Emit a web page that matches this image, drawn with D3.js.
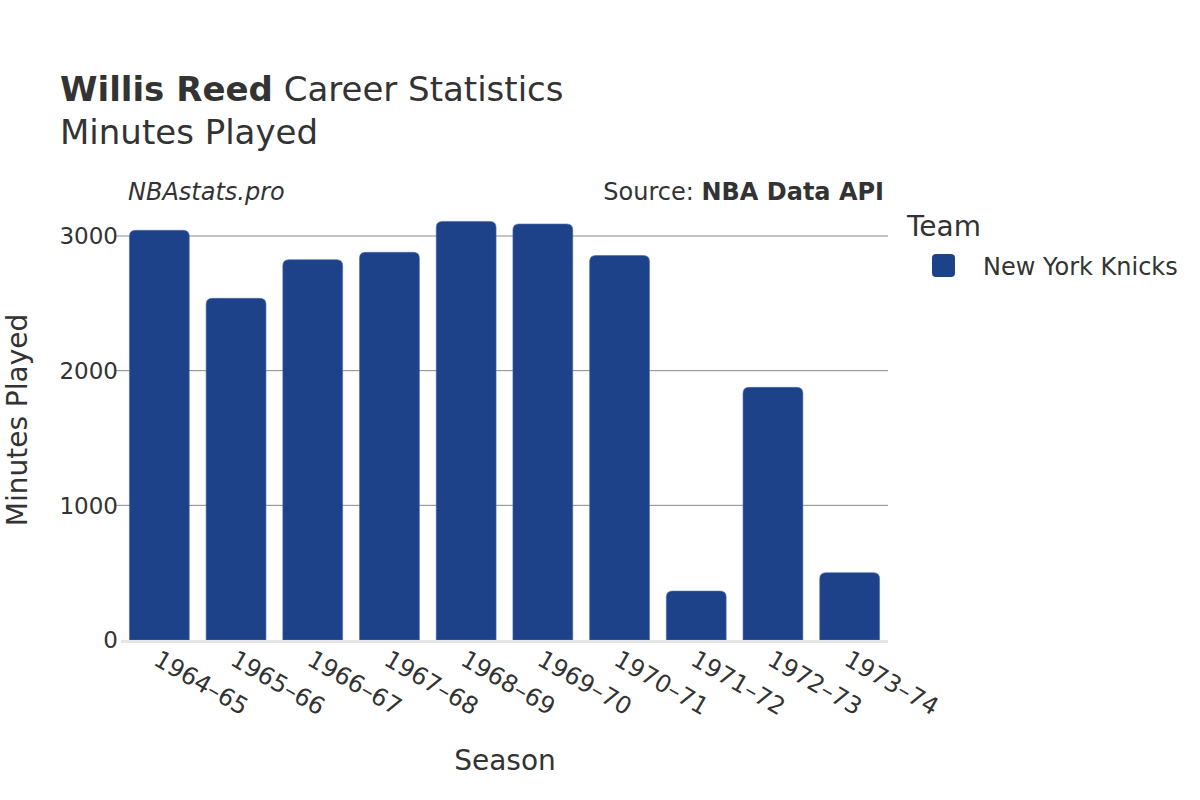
<!DOCTYPE html>
<html><head><meta charset="utf-8">
<script src="https://cdn.jsdelivr.net/npm/d3@7"></script>
<style>body{margin:0;background:#fff}svg{font-family:"DejaVu Sans",sans-serif}</style>
</head><body><svg id="c" width="1200" height="800"></svg>
<script>
const seasons = ["1964-65","1965-66","1966-67","1967-68","1968-69","1969-70","1970-71","1971-72","1972-73","1973-74"];
const minutes = [3042,2537,2824,2879,3108,3089,2855,363,1876,500];
const yTicks = [0,1000,2000,3000];
const teamName = "New York Knicks";
const teamColor = "#1d428a";

const svg = d3.select("#c");
const M = {l:121, r:888, t:180, b:640};
const x = d3.scaleBand().domain(seasons).range([M.l, M.r]).paddingInner(0.22).paddingOuter(0.11);
const y = d3.scaleLinear().domain([0, 3300]).range([M.b, M.b - 3300*0.13467]);

// grid
svg.append("g").selectAll("line").data(yTicks.filter(d=>d>0)).join("line")
  .attr("x1", M.l-6).attr("x2", M.r).attr("y1", d=>y(d)).attr("y2", d=>y(d))
  .attr("stroke","#8a8a8a").attr("stroke-width",1);
svg.append("g").selectAll("text").data(yTicks).join("text")
  .attr("x", M.l-3).attr("y", d=>y(d)).attr("dy","0.36em").attr("text-anchor","end")
  .attr("font-size",23).attr("fill","#333").text(d=>d);

// bars with rounded top corners
const r = 6;
function barPath(d,i){
  const x0 = x(seasons[i]), w = x.bandwidth(), y0 = y(d), yb = y(0);
  const rr = Math.min(r, (yb-y0));
  return `M${x0},${yb}V${y0+rr}Q${x0},${y0} ${x0+rr},${y0}H${x0+w-rr}Q${x0+w},${y0} ${x0+w},${y0+rr}V${yb}Z`;
}
svg.append("g").selectAll("path").data(minutes).join("path")
  .attr("d", barPath).attr("fill", teamColor).attr("stroke","#4a6aa8").attr("stroke-width",0.6);

// zero line
svg.append("line").attr("x1",M.l).attr("x2",M.r).attr("y1",y(0)+1.5).attr("y2",y(0)+1.5)
  .attr("stroke","#e6e6e6").attr("stroke-width",3);

// x tick labels
svg.append("g").selectAll("text").data(seasons).join("text")
  .attr("transform", d=>`translate(${x(d)+x.bandwidth()/2-7},${y(0)+24}) rotate(30)`)
  .attr("font-size",24).attr("fill","#333").text(d=>d.replace("-","–"));

// titles
const t = svg.append("text").attr("x",60).attr("y",101).attr("font-size",34).attr("fill","#333");
t.append("tspan").attr("font-weight","bold").text("Willis Reed");
t.append("tspan").text(" Career Statistics");
svg.append("text").attr("x",60).attr("y",144).attr("font-size",34).attr("fill","#333").text("Minutes Played");

svg.append("text").attr("x",128).attr("y",200).attr("font-size",24).attr("font-style","italic").attr("fill","#333").text("NBAstats.pro");
const s = svg.append("text").attr("x",884).attr("y",200).attr("font-size",24).attr("text-anchor","end").attr("fill","#333");
s.append("tspan").text("Source: ");
s.append("tspan").attr("font-weight","bold").text("NBA Data API");

// axis titles
svg.append("text").attr("x",505).attr("y",770).attr("text-anchor","middle").attr("font-size",28).attr("fill","#333").text("Season");
svg.append("text").attr("transform","translate(17,420) rotate(-90)").attr("text-anchor","middle").attr("dy","0.35em").attr("font-size",28).attr("fill","#333").text("Minutes Played");

// legend
svg.append("text").attr("x",907).attr("y",236).attr("font-size",28).attr("fill","#333").text("Team");
svg.append("rect").attr("x",932).attr("y",254).attr("width",23).attr("height",23).attr("rx",4).attr("fill",teamColor);
svg.append("text").attr("x",983).attr("y",275).attr("font-size",24).attr("fill","#333").text(teamName);
</script></body></html>
